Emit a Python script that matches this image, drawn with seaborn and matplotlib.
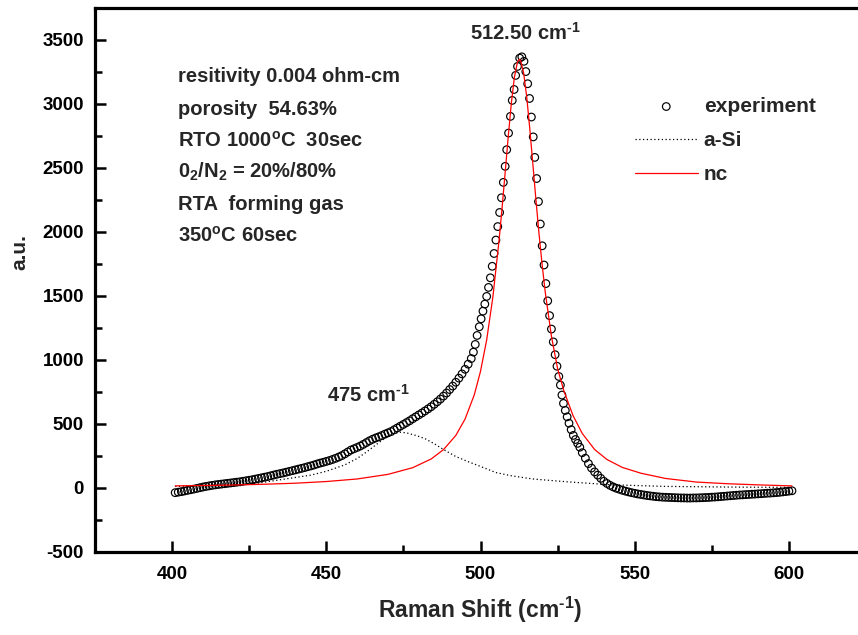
import numpy as np
import pandas as pd
import matplotlib
matplotlib.use("Agg")
import matplotlib.pyplot as plt
from matplotlib.ticker import MultipleLocator
import seaborn as sns

# Measured Raman spectrum (Raman shift in cm^-1, intensity in a.u.)
shift_exp = [
    401, 402, 403, 404, 405, 406, 407, 408, 409, 410,
    411, 412, 413, 414, 415, 416, 417, 418, 419, 420,
    421, 422, 423, 424, 425, 426, 427, 428, 429, 430,
    431, 432, 433, 434, 435, 436, 437, 438, 439, 440,
    441, 442, 443, 444, 445, 446, 447, 448, 449, 450,
    451, 452, 453, 454, 455, 456, 457, 458, 459, 460,
    461, 462, 463, 464, 465, 466, 467, 468, 469, 470,
    471, 472, 473, 474, 475, 476, 477, 478, 479, 480,
    481, 482, 483, 484, 485, 486, 487, 488, 489, 490,
    491, 492, 493, 494, 495, 496, 497, 497.7, 498.3, 498.9,
    499.6, 500.2, 500.8, 501.4, 502.0, 502.6, 503.2, 503.8, 504.4, 505.0,
    505.6, 506.2, 506.8, 507.4, 508.0, 508.5, 509.1, 509.7, 510.3, 510.9,
    511.4, 512.0, 512.7, 513.4, 514.1, 514.7, 515.3, 515.9, 516.5, 517.1,
    517.6, 518.2, 518.8, 519.4, 520.0, 520.6, 521.2, 521.8, 522.4, 523.0,
    523.6, 524.2, 524.8, 525.4, 525.9, 526.4, 526.9, 527.5, 528.1, 528.7,
    529.4, 530.1, 530.8, 531.5, 532.2, 533, 534, 535, 536, 537,
    538, 539, 540, 541, 542, 543, 544, 545, 546, 547,
    548, 549, 550, 551, 552, 553, 554, 555, 556, 557,
    558, 559, 560, 561, 562, 563, 564, 565, 566, 567,
    568, 569, 570, 571, 572, 573, 574, 575, 576, 577,
    578, 579, 580, 581, 582, 583, 584, 585, 586, 587,
    588, 589, 590, 591, 592, 593, 594, 595, 596, 597,
    598, 599, 600, 601,
]
intensity_exp = [
    -37, -33, -29, -24, -19, -14, -9, -4, 2, 7,
    12, 16, 20, 24, 27, 30, 33, 36, 39, 42,
    45, 48, 52, 56, 60, 64, 69, 74, 79, 84,
    89, 95, 101, 107, 112, 117, 123, 129, 135, 141,
    147, 153, 159, 166, 172, 179, 187, 194, 200, 207,
    214, 222, 231, 241, 252, 266, 281, 296, 306, 316,
    327, 340, 354, 368, 380, 390, 399, 409, 420, 430,
    440, 454, 468, 482, 496, 510, 524, 540, 555, 570,
    585, 601, 617, 634, 653, 673, 694, 717, 741, 768,
    795, 825, 857, 890, 926, 966, 1010, 1060, 1120, 1190,
    1258, 1320, 1380, 1435, 1495, 1565, 1640, 1730, 1830, 1935,
    2040, 2150, 2265, 2385, 2510, 2640, 2770, 2900, 3025, 3110,
    3220, 3290, 3355, 3365, 3330, 3250, 3155, 3040, 2895, 2740,
    2580, 2415, 2235, 2060, 1890, 1740, 1595, 1460, 1345, 1240,
    1140, 1040, 950, 870, 803, 725, 660, 605, 555, 505,
    455, 410, 378, 348, 318, 275, 232, 190, 155, 125,
    100, 75, 52, 35, 20, 8, -2, -10, -18, -25,
    -31, -37, -42, -47, -51, -55, -59, -62, -65, -68,
    -70, -72, -73, -74, -75, -76, -77, -78, -78, -79,
    -79, -78, -78, -77, -76, -75, -74, -72, -71, -69,
    -67, -65, -63, -61, -59, -57, -55, -54, -52, -51,
    -49, -48, -46, -45, -43, -41, -40, -38, -36, -34,
    -31, -28, -25, -22,
]

# Fitted amorphous-Si component (dotted)
shift_asi = [401, 410, 420, 428, 434, 440, 445, 450, 456, 460,
             463, 466, 469, 472, 474, 476, 479, 482, 485, 488,
             492, 496, 500, 505, 510, 517, 528, 542, 560, 580, 601]
intensity_asi = [12, 18, 27, 38, 60, 82, 100, 130, 180, 230,
                 280, 335, 388, 425, 435, 430, 410, 385, 345, 300,
                 245, 205, 168, 120, 95, 70, 48, 25, 12, 7, 4]

# Fitted nanocrystalline-Si component (red)
shift_nc = [401, 410, 420, 430, 440, 450, 460, 470, 478, 484,
            488, 492, 495, 498, 500, 502, 504, 506, 507, 508,
            509, 510, 511, 512, 512.6, 513, 514, 515, 516, 517,
            518, 519, 520, 521, 523, 525, 527, 530, 533, 537,
            541, 546, 552, 560, 570, 580, 590, 601]
intensity_nc = [16, 19, 23, 29, 37, 50, 70, 106, 158, 226,
                299, 410, 538, 728, 910, 1155, 1488, 1928, 2187, 2464,
                2744, 3003, 3207, 3325, 3345, 3336, 3238, 3049, 2799, 2522,
                2242, 1978, 1739, 1527, 1184, 931, 760, 565, 425, 300,
                222, 160, 115, 74, 46, 33, 24, 16]

x_major = [400, 450, 500, 550, 600]
y_major = [-500, 0, 500, 1000, 1500, 2000, 2500, 3000, 3500]

peak_nc_label = r"512.50 cm$^{\text{-}1}$"
peak_asi_label = r"475 cm$^{\text{-}1}$"
x_title = r"Raman Shift (cm$^{\text{-}1}$)"
y_title = "a.u."
sample_notes = [
    "resitivity 0.004 ohm-cm",
    "porosity  54.63%",
    r"RTO 1000$^{o}$C  30sec",
    r"0$_{2}$/N$_{2}$ = 20%/80%",
    "RTA  forming gas",
    r"350$^{o}$C 60sec",
]

W, H = 858, 635

sns.set_theme(style="ticks")
plt.rcParams.update({
    "font.family": ["Liberation Sans", "DejaVu Sans"],
    "font.weight": "bold",
    "mathtext.fontset": "custom",
    "mathtext.rm": "Liberation Sans:bold",
    "mathtext.it": "Liberation Sans:bold",
    "mathtext.bf": "Liberation Sans:bold",
    "mathtext.default": "rm",
    "axes.unicode_minus": False,
    "axes.linewidth": 2.3,
    "axes.edgecolor": "black",
    "xtick.color": "black",
    "ytick.color": "black",
})


def fpos(x, y):
    return x / W, 1 - y / H


fig = plt.figure(figsize=(W / 100, H / 100), dpi=100)
ax = fig.add_axes([95 / W, 1 - 552 / H, (866 - 95) / W, (552 - 7.5) / H])

exp_df = pd.DataFrame({"shift": shift_exp, "intensity": intensity_exp})
asi_df = pd.DataFrame({"shift": shift_asi, "intensity": intensity_asi})
nc_df = pd.DataFrame({"shift": shift_nc, "intensity": intensity_nc})

sns.scatterplot(data=exp_df, x="shift", y="intensity", ax=ax, marker="o",
                s=30, edgecolor="black", linewidth=0.85, label="experiment",
                zorder=2)
ax.collections[-1].set_facecolor("none")

sns.lineplot(data=asi_df, x="shift", y="intensity", ax=ax, color="black",
             linewidth=0.9, linestyle=(0, (1, 2.0)), label="a-Si", zorder=3)
sns.lineplot(data=nc_df, x="shift", y="intensity", ax=ax, color="#ff0000",
             linewidth=0.9, label="nc", zorder=3)

ax.set_xlim(375, 625)
ax.set_ylim(-500, 3750)
ax.set_xticks(x_major)
ax.set_yticks(y_major)
ax.xaxis.set_minor_locator(MultipleLocator(25))
ax.yaxis.set_minor_locator(MultipleLocator(250))
ax.tick_params(which="both", direction="in", color="black",
               bottom=True, left=True, top=False, right=False)
ax.tick_params(which="major", length=8, width=1.8, labelsize=13.5)
ax.tick_params(axis="x", which="major", pad=10)
ax.tick_params(axis="y", which="major", pad=8)
ax.tick_params(which="minor", length=5, width=1.8)
for lab in ax.get_xticklabels() + ax.get_yticklabels():
    lab.set_fontweight("bold")

for side in ["top", "left", "bottom", "right"]:
    ax.spines[side].set_visible(True)
    ax.spines[side].set_linewidth(2.3)
    ax.spines[side].set_color("black")

ax.set_xlabel(x_title, fontsize=16.5, fontweight="bold")
ax.xaxis.set_label_coords(*fpos(480, 618), transform=fig.transFigure)
ax.xaxis.label.set_verticalalignment("baseline")
ax.set_ylabel(y_title, fontsize=15, fontweight="bold")
ax.yaxis.set_label_coords(*fpos(29, 252), transform=fig.transFigure)

ax.legend(loc="upper left", bbox_to_anchor=fpos(635, 97),
          bbox_transform=fig.transFigure, frameon=False,
          prop={"weight": "bold", "size": 15}, handlelength=3.0,
          handletextpad=0.3, labelspacing=0.72, borderpad=0,
          borderaxespad=0)

fig.text(*fpos(470, 40), peak_nc_label, fontsize=14.5, fontweight="bold",
         ha="left", va="baseline")
fig.text(*fpos(327, 401.7), peak_asi_label, fontsize=14.5, fontweight="bold",
         ha="left", va="baseline")
for line, base in zip(sample_notes, [81.7, 115, 146.7, 177.7, 210, 241.7]):
    fig.text(*fpos(178, base), line, fontsize=14.5, fontweight="bold",
             ha="left", va="baseline")

fig.savefig("out.png", dpi=100, facecolor="white")
